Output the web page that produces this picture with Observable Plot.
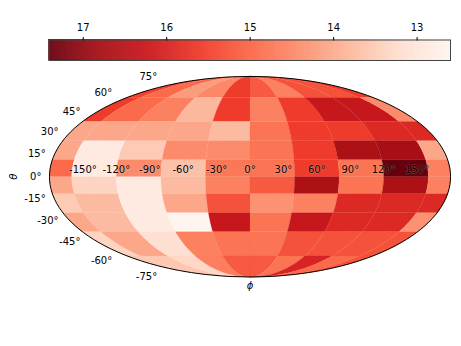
<!DOCTYPE html>
<html><head><meta charset="utf-8">
<style>
html,body{margin:0;padding:0;background:#fff}
#bar,#map{position:absolute;left:0;top:0}
text{font-family:"DejaVu Sans",sans-serif}
</style>
<script src="https://cdn.jsdelivr.net/npm/d3@7"></script>
<script src="https://cdn.jsdelivr.net/npm/@observablehq/plot@0.6"></script>
</head><body><div id="map"></div><div id="bar"></div>
<script>
const lonEdges = [-179.999,-160,-120,-80,-40,0,40,80,120,160,179.999];
const latEdges = [89.999,62.7,41.5,26.6,12.4,0,-12.4,-26.6,-41.5,-62.7,-89.999];
const row1  = [15.5,15.0,14.25,14.55,15.6,15.2,14.65,15.3,15.3,15.6];
const row2  = [15.6,15.0,14.65,13.85,15.6,14.65,15.6,16.3,16.3,14.5];
const row3  = [14.1,14.1,14.1,14.1,13.8,14.85,15.6,15.6,15.9,15.9];
const row4  = [14.1,12.9,13.55,14.5,14.5,14.85,15.6,16.7,16.8,14.1];
const row5  = [15.0,12.9,14.5,13.7,14.8,14.85,15.6,14.85,17.41,14.65];
const row6  = [14.1,13.4,12.9,13.8,14.65,15.2,16.7,14.85,16.7,14.65];
const row7  = [13.55,13.8,12.9,14.1,15.3,14.4,14.65,15.9,15.9,15.9];
const row8  = [14.1,13.8,12.9,12.6,16.3,14.85,16.3,15.9,15.9,14.4];
const row9  = [13.4,14.1,13.2,14.65,14.85,14.85,15.3,15.3,15.3,15.3];
const row10 = [13.6,13.6,13.35,14.7,15.2,15.2,14.85,16.0,15.0,15.3];
const rows = [row1,row2,row3,row4,row5,row6,row7,row8,row9,row10];
const colorDomain = [17.41,16.81,16.2,15.6,15.0,14.4,13.8,13.2,12.6];
const colorRange = ["#67000d","#a50f15","#cb181d","#ef3b2c","#fb6a4a","#fc9272","#fcbba1","#fee0d2","#fff5f0"];
const lonTicks = [-150,-120,-90,-60,-30,0,30,60,90,120,150];
const latTicks = [75,60,45,30,15,0,-15,-30,-45,-60,-75];
const barTicks = [17,16,15,14,13];

function mollTheta(phi){
  const c = Math.PI*Math.sin(phi); let t = phi;
  if (Math.abs(Math.abs(phi)-Math.PI/2)<1e-9) return phi;
  for(let i=0;i<50;i++){const d=(t+Math.sin(t)-c)/(1+Math.cos(t)); t-=d; if(Math.abs(d)<1e-9)break;}
  return t/2;
}
const mollRaw = (l,p)=>{const t=mollTheta(p);return [2*Math.SQRT2/Math.PI*l*Math.cos(t),Math.SQRT2*Math.sin(t)];};
const K = 70.9, CX = 249.5, CY = 176.2;
const mollY = lat => K*mollRaw(0,lat*Math.PI/180)[1];
const makeProjection = () => d3.geoProjection(mollRaw).scale(K).translate([CX,CY]).precision(0.1);

function ring(lon0,lon1,lat0,lat1){
  const pts=[]; const n=24;
  for(let i=0;i<=n;i++) pts.push([lon0,lat0+(lat1-lat0)*i/n]);
  for(let i=1;i<=n;i++) pts.push([lon0+(lon1-lon0)*i/n,lat1]);
  for(let i=1;i<=n;i++) pts.push([lon1,lat1+(lat0-lat1)*i/n]);
  for(let i=1;i<=n;i++) pts.push([lon1+(lon0-lon1)*i/n,lat0]);
  return pts;
}
const cells=[];
rows.forEach((row,r)=>row.forEach((value,c)=>{
  cells.push({value,geometry:{type:"Polygon",coordinates:[ring(lonEdges[c],lonEdges[c+1],latEdges[r+1],latEdges[r])]}});
}));
const color={type:"linear",domain:colorDomain,range:colorRange,clamp:true};
const font={fontSize:10,fill:"black",fontFamily:"DejaVu Sans"};

const map = Plot.plot({
  width:461,height:346,margin:0,
  projection:makeProjection,
  color,
  marks:[
    Plot.geo(cells,{geometry:d=>d.geometry,fill:d=>d.value,stroke:d=>d.value,strokeWidth:0.2}),
    Plot.sphere({stroke:"black",strokeWidth:1}),
    Plot.text(lonTicks,{x:d=>d,y:()=>0,text:d=>d+"°",lineAnchor:"bottom",dy:-4,stroke:"white",strokeOpacity:0.25,strokeWidth:1,...font}),
    ...latTicks.map(lat=>Plot.text([lat],{x:()=>-179.999,y:d=>d,text:d=>d+"°",textAnchor:"end",dx:-8,dy:-0.1*mollY(lat),...font})),
    Plot.text(["ϕ"],{x:()=>0,y:()=>-89.999,dy:8.5,fontStyle:"italic",...font}),
    Plot.text(["θ"],{x:()=>-179.999,y:()=>0,dx:-36,rotate:-90,fontStyle:"italic",...font})
  ]
});
document.getElementById("map").append(map);

const barD = d3.range(402).map(i=>{const a=17.41+(12.6-17.41)*i/402,b=17.41+(12.6-17.41)*(i+1)/402;return{a,b};});
const bar = Plot.plot({
  width:461,height:61,marginLeft:48.5,marginRight:11,marginTop:39.5,marginBottom:1,
  x:{domain:[17.41,12.6],axis:null},y:{axis:null,domain:[0,1]},
  color,
  marks:[
    Plot.rect(barD,{x1:"a",x2:"b",y1:0,y2:1,fill:d=>(d.a+d.b)/2,stroke:d=>(d.a+d.b)/2,strokeWidth:0.5}),
    Plot.frame({stroke:"#444",strokeWidth:1}),
    Plot.axisX({anchor:"top",ticks:barTicks,tickSize:3.5,tickPadding:5.5,tickFormat:d=>d,fontSize:10,label:null,stroke:"black"})
  ]
});
document.getElementById("bar").append(bar);
</script></body></html>
